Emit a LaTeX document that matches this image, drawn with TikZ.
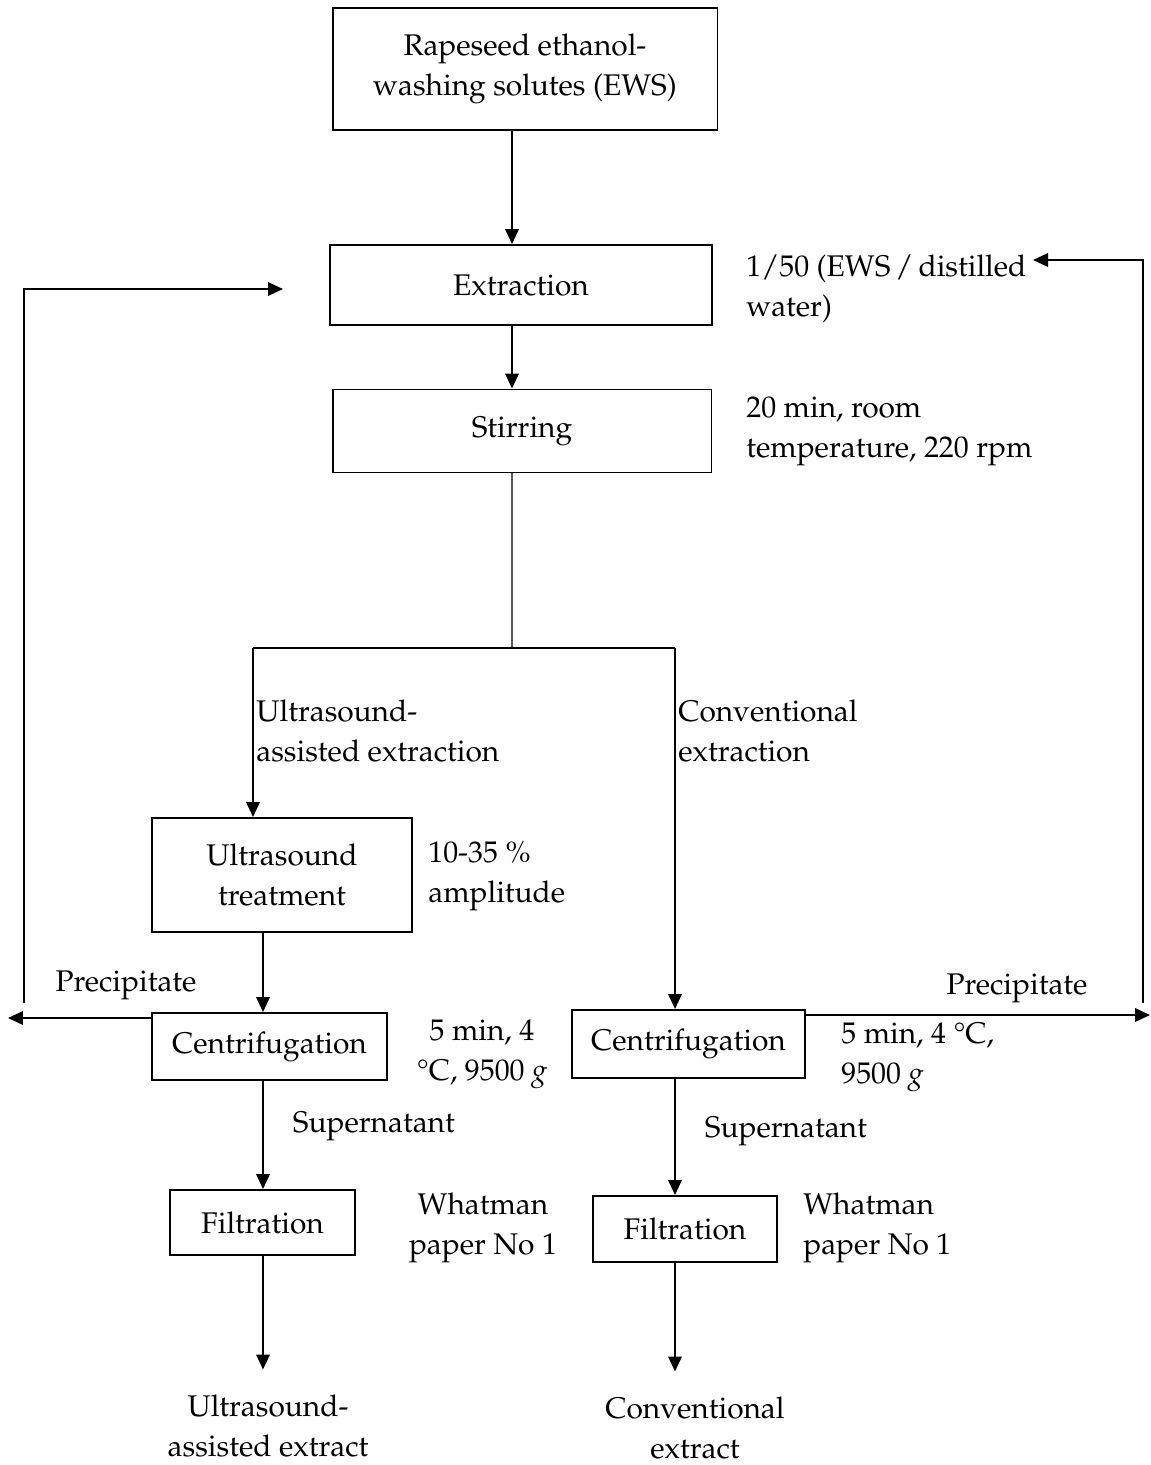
\documentclass[tikz,border=0pt]{standalone}
\usepackage[T1]{fontenc}
\usepackage{mathpazo}
\usepackage{tikz}
\usetikzlibrary{calc,positioning,arrows.meta}
\tikzstyle{process} = [rectangle, draw=black, line width=1.1pt, text centered, align=center, inner sep=0pt]
\tikzstyle{arrow} = [line width=1.1pt,-{Triangle[length=0.3cm,width=0.27cm]}]
\tikzstyle{note} = [align=left, anchor=west, inner sep=0pt]
\tikzstyle{product} = [align=center, inner xsep=0pt, inner ysep=0.5cm]

\begin{document}
\begin{tikzpicture}[x=0.02cm,y=-0.02cm,font=\fontsize{17}{22.8}\selectfont]
	\useasboundingbox (0,0) rectangle (1151,1465);
	% main line
	\node[process, minimum width=7.7cm, minimum height=2.44cm] (ews) at (525,69) {Rapeseed ethanol-\\washing solutes (EWS)};
	\node[process, minimum width=7.64cm, minimum height=1.6cm] (extr) at (521,285) {Extraction};
	\node[process, minimum width=7.58cm, minimum height=1.66cm] (stir) at (522,431) {Stirring};
	\coordinate (stem) at (512,648);
	\coordinate (bl) at (253,648);
	\coordinate (br) at (675,648);
	\coordinate (colL) at (263,0);
	\coordinate (colR) at (675,0);
	\draw[arrow] (ews.south -| stem) -- (extr.north -| stem);
	\draw[arrow] (extr.south -| stem) -- (stir.north -| stem);
	\draw[gray!70!black, line width=0.7pt] (stir.south -| stem) -- (stem);
	\draw[line width=1.1pt] (bl) -- (br);
	\node[note] at (746,289) {1/50 (EWS\,/\,distilled\\water)};
	\node[note] at (746,431) {20 min, room\\temperature, 220 rpm};
	\node[note] at (256,731) {Ultrasound-\\assisted extraction};
	\node[note] at (678,731) {Conventional\\extraction};

	% ultrasound-assisted branch
	\node[process, minimum width=5.2cm, minimum height=2.28cm] (ust) at (282,875) {Ultrasound\\treatment};
	\node[note] at (428,876) {10-35 \%\\amplitude};
	\node[process, minimum width=4.7cm, minimum height=1.34cm] (cenl) at (269.5,1046.5) {Centrifugation};
	\node[align=center, inner sep=0pt] at (482,1054) {5 min, 4\\\textdegree C, 9500 \textit{g}};
	\node[process, minimum width=3.7cm, minimum height=1.3cm] (fill) at (262.5,1222.5) {Filtration};
	\node[align=center, inner sep=0pt] at (483,1228) {Whatman\\paper No 1};
	\node[product] (uae) at (268,1426) {Ultrasound-\\assisted extract};
	\draw[arrow] (bl) -- (ust.north -| bl);
	\draw[arrow] (ust.south -| colL) -- (cenl.north -| colL);
	\draw[arrow] (cenl.south -| colL) -- (fill.north -| colL) node[pos=0.42, right=0.58cm, inner sep=0pt] {Supernatant};
	\draw[arrow] (fill.south -| colL) -- (uae.north -| colL);
	\coordinate (pl) at (8,1018);
	\coordinate (ll) at (24,1003);
	\coordinate (lt) at (283,289);
	\draw[arrow] (cenl.west |- pl) -- (pl);
	\draw[arrow] (ll) |- (lt);
	\node[inner sep=0pt] at (126,985) {Precipitate};

	% conventional branch
	\node[process, minimum width=4.66cm, minimum height=1.36cm] (cenr) at (688.5,1044) {Centrifugation};
	\node[note] at (841,1057) {5 min, 4 \textdegree C,\\9500 \textit{g}};
	\node[process, minimum width=3.68cm, minimum height=1.32cm] (filr) at (685,1229) {Filtration};
	\node[note] at (803,1228) {Whatman\\paper No 1};
	\node[product] (ce) at (695,1428) {Conventional\\extract};
	\draw[arrow] (br) -- (cenr.north -| br);
	\draw[arrow] (cenr.south -| colR) -- (filr.north -| colR) node[pos=0.45, right=0.58cm, inner sep=0pt] {Supernatant};
	\draw[arrow] (filr.south -| colR) -- (ce.north -| colR);
	\coordinate (pr) at (1150,1015);
	\coordinate (rl) at (1143,1003);
	\coordinate (rt) at (1033,260);
	\draw[arrow] (cenr.east |- pr) -- (pr);
	\draw[arrow] (rl) |- (rt);
	\node[inner sep=0pt] at (1017,988) {Precipitate};
\end{tikzpicture}
\end{document}
